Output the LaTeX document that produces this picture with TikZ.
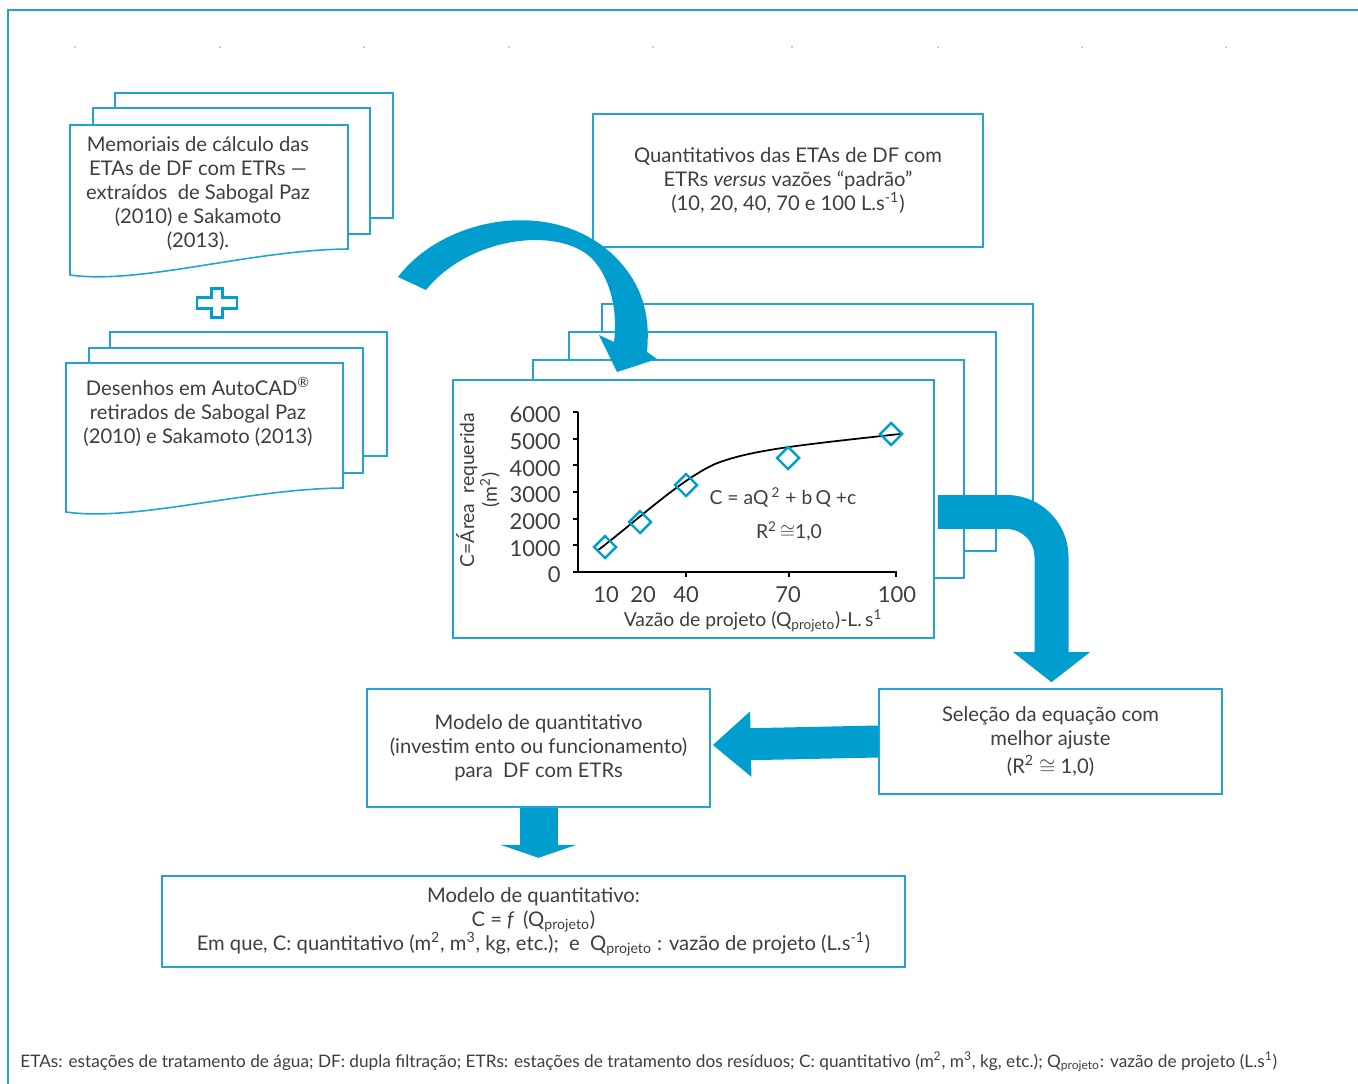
\documentclass[tikz,border=0pt]{standalone}
\usepackage{fontspec}
\setmainfont{Lato}
\usetikzlibrary{arrows.meta, calc}
\definecolor{etablue}{RGB}{0,158,206}
\definecolor{edgeblue}{RGB}{35,163,212}
\definecolor{txtgray}{RGB}{62,62,62}

\begin{document}
\begin{tikzpicture}[x=0.02cm, y=-0.02cm, line join=miter,
	font=\fontsize{11.5}{13.66}\selectfont,
	every node/.style={text=txtgray},
	page/.style={draw=edgeblue, fill=white, line width=0.9pt},
	flowbox/.style={draw=edgeblue, fill=white, line width=0.9pt, align=center},
	blockarrow/.style={draw=etablue, line cap=butt},
	datapt/.style={draw=etablue, line width=1.4pt},
	ticklbl/.style={font=\fontsize{11}{13}\selectfont, inner sep=0pt},
	numlbl/.style={font=\fontsize{12.5}{14}\selectfont, inner sep=0pt}]

\useasboundingbox (0,0) rectangle (1358,1084);
\fill[white] (0,0) rectangle (1358,1084);

% frame and small marks
\draw[edgeblue, line width=1.2pt] (8,1084) -- (8,10) -- (1358,10);
\foreach \xx in {75,220,364,509,653,792,938,1082,1226}
	\fill[gray!40] (\xx-1,46) rectangle (\xx+1,48);

%========================
% Left: source documents
%========================
\draw[page] (115,93) rectangle (393,218);
\draw[page] (93,108) rectangle (370,234);
\draw[page] (70,125) -- (348,125) -- (348,249)
	.. controls (250,250) and (140,285) .. (70,275) -- cycle;
\node[align=center] (memo) at (198,194)
	{Memoriais de cálculo das\\ETAs de DF com ETRs —\\extraídos\ \ de Sabogal Paz\\(2010) e Sakamoto\\(2013).};

% plus sign
\draw[etablue, fill=white, line width=1.4pt] (211.5,288.5) -- (222.5,288.5) -- (222.5,297.5)
	-- (237,297.5) -- (237,308.5) -- (222.5,308.5) -- (222.5,317.5) -- (211.5,317.5)
	-- (211.5,308.5) -- (197,308.5) -- (197,297.5) -- (211.5,297.5) -- cycle;

\draw[page] (110,332) rectangle (387,456);
\draw[page] (89,348) rectangle (363,473);
\draw[page] (66,363) -- (343,363) -- (343,488)
	.. controls (245,489) and (136,522) .. (66,512) -- cycle;
\node[align=center] (cad) at (198,412)
	{Desenhos em AutoCAD\textsuperscript{®}\\ retirados de Sabogal Paz\\(2010) e Sakamoto (2013)};

% quantities box
\node[flowbox, minimum width=7.8cm, minimum height=2.66cm] (quant) at (788,180.5)
	{Quantitativos das ETAs de DF com\\ETRs \textit{versus} vazões “padrão”\\(10, 20, 40, 70 e 100 L.s\textsuperscript{-1})};

%========================
% Middle: chart pages
%========================
\draw[page] (602,304) rectangle (1033,520);
\draw[page] (569,332) rectangle (996,551);
\draw[page] (533,360) rectangle (964,578);
\node[page, minimum width=9.62cm, minimum height=5.16cm] (chartpg) at (693.5,509) {};

% curved arrow into the chart stack
\fill[etablue] (398,277) .. controls (445,215) and (560,195) .. (620,262)
	.. controls (645,290) and (650,320) .. (647,352) -- (657,359) -- (617,372)
	-- (599,335) -- (614,342) .. controls (618,310) and (610,280) .. (595,262)
	.. controls (565,225) and (470,235) .. (426,290) -- cycle;

% axes
\draw[black, line width=1.4pt] (578,412) -- (578,572) -- (897,572);
\foreach \yy/\lbl in {0/0,1000/1000,2000/2000,3000/3000,4000/4000,5000/5000,6000/6000}{
	\draw[black, line width=1pt] (573,572-\yy*0.02667) -- (578,572-\yy*0.02667);
	\node[numlbl, anchor=east] at (561,575-\yy*0.02667) {\lbl};
}
\foreach \xx in {686,789,896}
	\draw[black, line width=1pt] (\xx,572) -- (\xx,577);
\foreach \xx/\lbl in {606/10,643/20,686/40,788/70,897/100}
	\node[numlbl] at (\xx,595) {\lbl};

% fitted curve and data
\draw[black, line width=1pt] (597,551) .. controls (640,518) and (680,480) .. (715,464)
	.. controls (750,450) and (800,445) .. (900,434);
\foreach \xx/\yy in {605/547, 640/522, 686/485, 788/458, 891/434}
	\draw[datapt] (\xx-11,\yy) -- (\xx,\yy-11) -- (\xx+11,\yy) -- (\xx,\yy+11) -- cycle;

\node[ticklbl, align=center, rotate=90] (ylbl) at (478,490) {C=Área\ \ requerida\\(m\textsuperscript{2})};
\node[ticklbl] (xlbl) at (753,621) {Vazão de projeto (Q\textsubscript{projeto})-L.\,s\textsuperscript{1}};
\node[ticklbl] (eqn) at (783,498) {C = aQ\,\textsuperscript{2} + b\,Q +c};
\node[ticklbl] (rsq) at (789,531) {R\textsuperscript{2}\,$\cong$1,0};

%========================
% Bottom: selection and model
%========================
\node[flowbox, minimum width=6.86cm, minimum height=2.1cm] (sel) at (1050.5,741.5)
	{Seleção da equação com\\melhor ajuste\\[2pt](R\textsuperscript{2} $\cong$ 1,0)};
\node[flowbox, minimum width=6.86cm, minimum height=2.36cm] (model) at (538.5,748)
	{Modelo de quantitativo\\(investim ento ou funcionamento)\\para\ \ DF com ETRs};
\node[flowbox, minimum width=14.86cm, minimum height=1.82cm] (final) at (533.5,921.5)
	{Modelo de quantitativo:\\C = \textit{f}\, (Q\textsubscript{projeto})\\Em que, C: quantitativo (m\textsuperscript{2}, m\textsuperscript{3}, kg, etc.);\ \ e\ \ Q\textsubscript{projeto} : vazão de projeto (L.s\textsuperscript{-1})};

% block arrows
\draw[blockarrow, line width=0.68cm, rounded corners=0.9cm,
	-{Triangle[length=0.6cm, width=1.5cm]}]
	($(chartpg.east)+(3,3)$) -| ($(sel.north)+(1,-6)$);
\draw[blockarrow, line width=0.64cm, -{Triangle[length=0.76cm, width=1.26cm]}]
	(sel.west) -- ($(model.east)+(2,-3)$);
\coordinate (dntip) at ($(model.south)+(0,50)$);
\draw[blockarrow, line width=0.76cm, -{Triangle[length=0.26cm, width=1.52cm]}]
	(model.south) -- (dntip);

% footnote
\node[anchor=west, inner sep=0pt, font=\fontsize{9.8}{11}\selectfont] (note) at (20,1062)
	{ETAs: estações de tratamento de água; DF: dupla filtração; ETRs: estações de tratamento dos resíduos; C: quantitativo (m\textsuperscript{2}, m\textsuperscript{3}, kg, etc.); Q\textsubscript{projeto}: vazão de projeto (L.s\textsuperscript{1})};

\end{tikzpicture}
\end{document}
